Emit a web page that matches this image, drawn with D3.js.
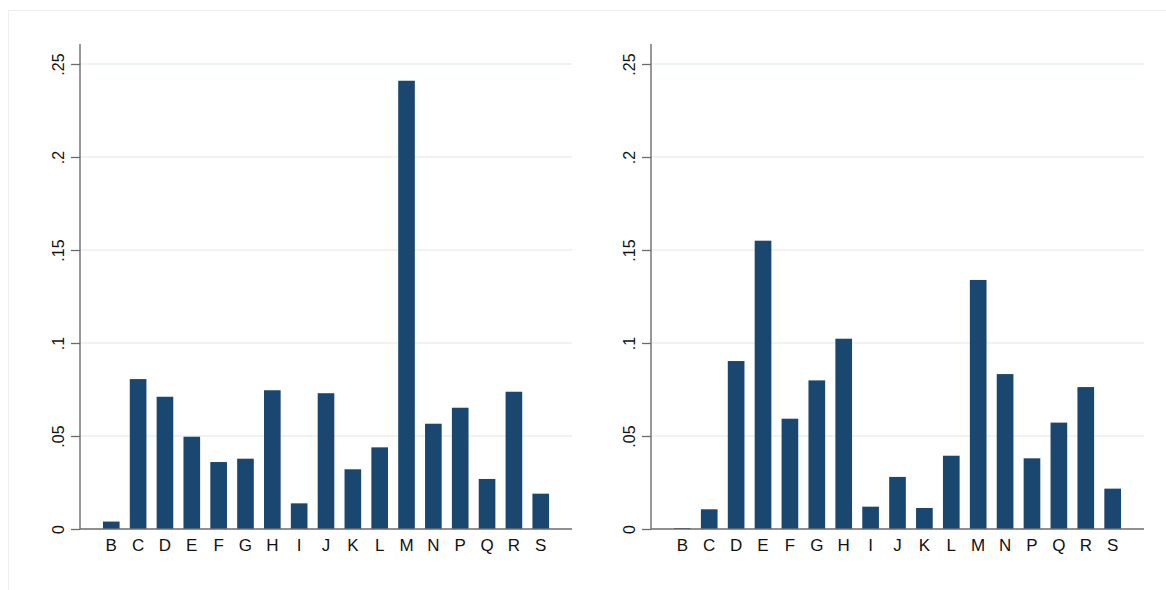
<!DOCTYPE html>
<html>
<head>
<meta charset="utf-8">
<script src="https://cdn.jsdelivr.net/npm/d3@7"></script>
<style>
  html, body { margin: 0; padding: 0; background: #fff; }
  svg { display: block; }
  text { font-family: "Liberation Sans", Arial, Helvetica, sans-serif; fill: #111; }
</style>
</head>
<body>
<svg id="chart" width="1166" height="590"></svg>
<script>
// Categories shared by both panels
const categories = ["B","C","D","E","F","G","H","I","J","K","L","M","N","P","Q","R","S"];

// Share per category, left panel
const leftValues = [0.004, 0.0806, 0.0711, 0.0496, 0.036, 0.0378, 0.0746, 0.0138, 0.073,
                    0.0321, 0.0439, 0.241, 0.0566, 0.0652, 0.0269, 0.0738, 0.019];

// Share per category, right panel
const rightValues = [0.0005, 0.0106, 0.0903, 0.155, 0.0593, 0.0799, 0.1023, 0.012, 0.028,
                     0.0113, 0.0394, 0.1339, 0.0833, 0.038, 0.0572, 0.0763, 0.0217];

// Y-axis ticks and their labels
const yTicks = [0, 0.05, 0.1, 0.15, 0.2, 0.25];
const yTickLabels = ["0", ".05", ".1", ".15", ".2", ".25"];

const svg = d3.select("#chart");
const barColor = "#1a476f";
const axisColor = "#6b6b6b";
const gridColor = "#e8f0f1";

// Faint outer border of the graph region
svg.append("rect")
  .attr("x", 8.5).attr("y", 10.5)
  .attr("width", 1180).attr("height", 600)
  .attr("fill", "none")
  .attr("stroke", "#efefef")
  .attr("stroke-width", 1);

function drawPanel(values, x0, x1) {
  const yTop = 44, yBase = 529;

  const y = d3.scaleLinear().domain([0, 0.25]).range([yBase, 64]);
  const x = d3.scaleBand()
    .domain(categories)
    .range([x0, x1])
    .paddingInner(0.38)
    .paddingOuter(0.855);

  const g = svg.append("g");

  // Horizontal gridlines
  g.selectAll("line.grid")
    .data(yTicks.filter(t => t > 0))
    .join("line")
    .attr("class", "grid")
    .attr("x1", x0).attr("x2", x1)
    .attr("y1", d => y(d)).attr("y2", d => y(d))
    .attr("stroke", gridColor)
    .attr("stroke-width", 1.4);

  // Bars
  g.selectAll("rect.bar")
    .data(categories.map((c, i) => ({ c, v: values[i] })))
    .join("rect")
    .attr("class", "bar")
    .attr("x", d => x(d.c))
    .attr("width", x.bandwidth())
    .attr("y", d => y(d.v))
    .attr("height", d => yBase - y(d.v))
    .attr("fill", barColor);

  // Y axis
  const yAxis = d3.axisLeft(y)
    .tickValues(yTicks)
    .tickFormat((d, i) => yTickLabels[i])
    .tickSize(9)
    .tickPadding(0);
  const ya = g.append("g").attr("transform", `translate(${x0},0)`).call(yAxis);
  ya.select(".domain").remove();
  ya.selectAll(".tick line").attr("stroke", axisColor).attr("stroke-width", 1.3);
  ya.selectAll(".tick text")
    .attr("x", 0).attr("y", 0).attr("dy", null)
    .attr("text-anchor", "middle")
    .attr("dominant-baseline", "central")
    .attr("transform", `translate(-22,0) rotate(-90)`)
    .style("font-size", "16px")
    .style("font-family", '"Liberation Sans", Arial, sans-serif')
    .attr("fill", "#111");
  g.append("line")
    .attr("x1", x0).attr("x2", x0)
    .attr("y1", yTop).attr("y2", yBase)
    .attr("stroke", axisColor).attr("stroke-width", 1.4);

  // X axis
  const xAxis = d3.axisBottom(x).tickSize(0).tickPadding(10);
  const xa = g.append("g").attr("transform", `translate(0,${yBase})`).call(xAxis);
  xa.select(".domain").remove();
  xa.selectAll(".tick text")
    .attr("dy", "0.71em")
    .style("font-size", "17px")
    .style("font-family", '"Liberation Sans", Arial, sans-serif')
    .attr("fill", "#111");
  g.append("line")
    .attr("x1", x0).attr("x2", x1)
    .attr("y1", yBase).attr("y2", yBase)
    .attr("stroke", axisColor).attr("stroke-width", 1.4);
}

drawPanel(leftValues, 80, 572);
drawPanel(rightValues, 651, 1144);
</script>
</body>
</html>
